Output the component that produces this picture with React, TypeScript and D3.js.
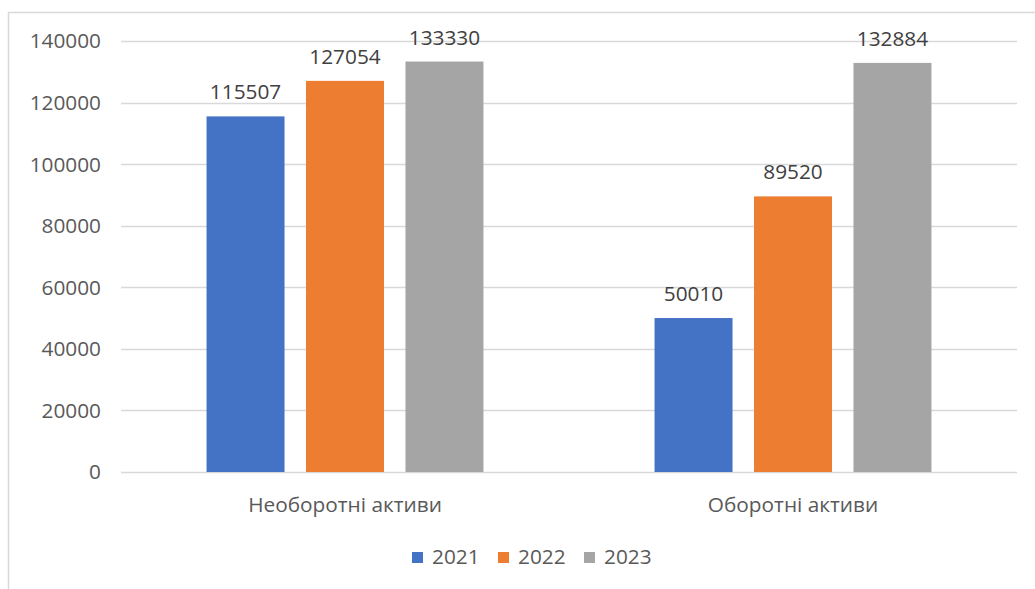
import React from "react";
import * as d3 from "d3";

const categories = ["Необоротні активи", "Оборотні активи"];
const seriesNames = ["2021", "2022", "2023"];
const values2021 = [115507, 50010];
const values2022 = [127054, 89520];
const values2023 = [133330, 132884];
const yTicks = [0, 20000, 40000, 60000, 80000, 100000, 120000, 140000];
const colors = ["#4472C4", "#ED7D31", "#A5A5A5"];

const W = 1035;
const H = 589;
const FONT = "'Open Sans', sans-serif";
const TEXT = "#595959";
const FS = 20.8;

export default function App() {
  const series = [values2021, values2022, values2023];
  const plotLeft = 121;
  const plotRight = 1017;
  const y = d3.scaleLinear().domain([0, 140000]).range([472, 41]);
  const x0 = d3.scaleBand<string>().domain(categories).range([plotLeft, plotRight]).padding(0);
  const x1 = d3
    .scaleBand<string>()
    .domain(seriesNames)
    .range([0, x0.bandwidth()])
    .paddingInner(0.216)
    .paddingOuter(0.86);

  const legendX = [412, 498, 584];

  return (
    <svg
      width={W}
      height={H}
      style={{ position: "absolute", left: 0, top: 0, background: "#fff" }}
      fontFamily={FONT}
    >
      <rect x={8.5} y={12.5} width={1100} height={700} fill="#fff" stroke="#d9d9d9" strokeWidth={1.5} />
      {yTicks.map((t) => (
        <g key={t}>
          <line x1={plotLeft} x2={plotRight} y1={Math.round(y(t)) + 0.5} y2={Math.round(y(t)) + 0.5} stroke="#d9d9d9" strokeWidth={1.3} />
          <text x={101} y={y(t)} dy="0.36em" textAnchor="end" fontSize={FS} fill={TEXT}>
            {t}
          </text>
        </g>
      ))}
      {categories.map((c, ci) => (
        <g key={c} transform={`translate(${x0(c)},0)`}>
          {seriesNames.map((s, si) => {
            const v = series[si][ci];
            const bx = x1(s)!;
            return (
              <g key={s}>
                <rect x={bx} y={y(v)} width={x1.bandwidth()} height={y(0) - y(v)} fill={colors[si]} />
                <text
                  x={bx + x1.bandwidth() / 2}
                  y={y(v) - 17}
                  textAnchor="middle"
                  fontSize={FS}
                  fill="#404040"
                >
                  {v}
                </text>
              </g>
            );
          })}
          <text x={x0.bandwidth() / 2} y={505} dy="0.36em" textAnchor="middle" fontSize={FS} fill={TEXT}>
            {c}
          </text>
        </g>
      ))}
      {seriesNames.map((s, i) => (
        <g key={s}>
          <rect x={legendX[i]} y={552} width={11} height={11} fill={colors[i]} />
          <text x={legendX[i] + 20} y={557} dy="0.36em" fontSize={FS} fill={TEXT}>
            {s}
          </text>
        </g>
      ))}
    </svg>
  );
}
